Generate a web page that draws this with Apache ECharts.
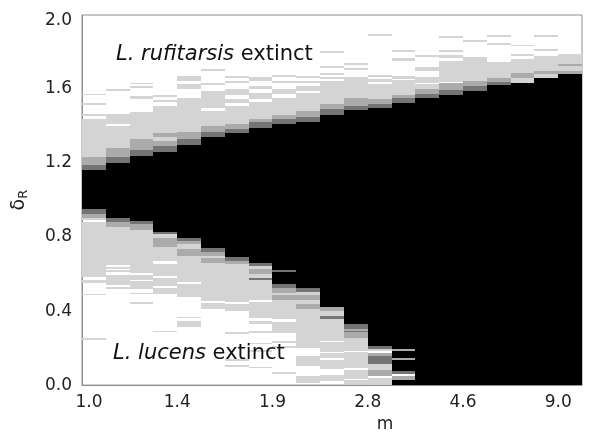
<!DOCTYPE html>
<html>
<head>
<meta charset="utf-8">
<script src="https://cdn.jsdelivr.net/npm/echarts@6/dist/echarts.min.js"></script>
<style>
  html, body { margin: 0; padding: 0; background: #fff; }
  #chart { width: 590px; height: 438px; }
</style>
</head>
<body>
<div id="chart"></div>
<script>
// m tick labels (every 4th column) and y ticks
var mLabels = ['1.0', '1.4', '1.9', '2.8', '4.6', '9.0'];
var columnCount = 21;

// top and bottom of the black (coexistence) region, per column of m
var blackTop = [1.16, 1.20, 1.24, 1.26, 1.30, 1.34, 1.36, 1.39, 1.41, 1.42, 1.46,
                1.485, 1.50, 1.525, 1.55, 1.57, 1.59, 1.62, 1.635, 1.66, 1.68];
var blackBottom = [0.95, 0.905, 0.886, 0.83, 0.796, 0.743, 0.69, 0.66, 0.545, 0.525, 0.42,
                   0.33, 0.21, 0, 0, 0, 0, 0, 0, 0, 0];

// grey stripes above the black region: [from, to, shade]  (shade 0 white .. 3 dark)
var upperBand = [
  [[1.16,1.19,3],[1.19,1.235,2],[1.235,1.44,1],[1.455,1.465,1],[1.515,1.525,1],[1.565,1.575,1]],
  [[1.20,1.23,3],[1.23,1.28,2],[1.28,1.40,1],[1.41,1.465,1],[1.59,1.60,1]],
  [[1.24,1.27,3],[1.27,1.33,2],[1.33,1.475,1],[1.545,1.56,1],[1.605,1.615,1],[1.625,1.635,1]],
  [[1.26,1.29,3],[1.29,1.32,2],[1.32,1.34,1],[1.34,1.365,2],[1.365,1.51,1],[1.53,1.54,1],[1.555,1.565,1]],
  [[1.30,1.33,3],[1.33,1.37,2],[1.37,1.55,1],[1.60,1.625,1],[1.645,1.67,1]],
  [[1.34,1.37,3],[1.37,1.40,2],[1.40,1.48,1],[1.50,1.59,1],[1.62,1.63,1],[1.70,1.71,1]],
  [[1.36,1.385,3],[1.385,1.41,2],[1.41,1.51,1],[1.525,1.545,1],[1.565,1.60,1],[1.63,1.645,1],[1.66,1.67,1]],
  [[1.39,1.42,3],[1.42,1.44,2],[1.44,1.53,1],[1.545,1.58,1],[1.60,1.615,1],[1.645,1.665,1]],
  [[1.41,1.44,3],[1.44,1.46,2],[1.46,1.55,1],[1.575,1.60,1],[1.63,1.645,1],[1.665,1.675,1]],
  [[1.42,1.45,3],[1.45,1.48,2],[1.48,1.58,1],[1.59,1.615,1],[1.635,1.645,1],[1.66,1.67,1]],
  [[1.46,1.49,3],[1.49,1.52,2],[1.52,1.645,1],[1.655,1.665,1],[1.675,1.685,1],[1.715,1.725,1],[1.795,1.805,1]],
  [[1.485,1.51,3],[1.51,1.55,2],[1.55,1.665,1],[1.705,1.715,1],[1.73,1.74,1]],
  [[1.50,1.52,3],[1.52,1.545,2],[1.545,1.625,1],[1.64,1.655,1],[1.665,1.675,1],[1.885,1.895,1]],
  [[1.525,1.55,3],[1.55,1.565,2],[1.565,1.65,1],[1.655,1.67,1],[1.75,1.77,1],[1.80,1.81,1]],
  [[1.55,1.575,3],[1.575,1.60,2],[1.60,1.625,1],[1.635,1.665,1],[1.70,1.72,1],[1.775,1.785,1]],
  [[1.57,1.595,3],[1.595,1.63,2],[1.64,1.75,1],[1.77,1.785,1],[1.80,1.81,1],[1.875,1.885,1]],
  [[1.59,1.615,3],[1.615,1.645,2],[1.645,1.775,1],[1.855,1.865,1]],
  [[1.62,1.64,3],[1.64,1.66,2],[1.66,1.745,1],[1.84,1.85,1],[1.88,1.89,1]],
  [[1.635,1.66,1],[1.66,1.685,2],[1.685,1.76,1],[1.78,1.79,1],[1.83,1.84,1]],
  [[1.66,1.68,1],[1.68,1.70,2],[1.70,1.78,1],[1.805,1.815,1],[1.88,1.89,1]],
  [[1.68,1.70,2],[1.70,1.725,1],[1.725,1.735,2],[1.735,1.79,1]]
];

// grey stripes below the black region
var lowerBand = [
  [[0.925,0.95,3],[0.905,0.925,2],[0.89,0.905,1],[0.585,0.88,1],[0.55,0.57,1],[0.485,0.495,1],[0.245,0.255,1]],
  [[0.88,0.905,3],[0.855,0.88,2],[0.65,0.855,1],[0.63,0.64,1],[0.61,0.62,1],[0.54,0.595,1],[0.52,0.53,1]],
  [[0.87,0.886,3],[0.84,0.87,2],[0.605,0.84,1],[0.57,0.595,1],[0.52,0.56,1],[0.49,0.50,1],[0.44,0.45,1]],
  [[0.815,0.83,3],[0.795,0.815,1],[0.745,0.795,2],[0.67,0.745,1],[0.59,0.655,1],[0.535,0.58,1],[0.49,0.525,1],[0.285,0.295,1]],
  [[0.78,0.796,3],[0.76,0.78,2],[0.735,0.76,1],[0.70,0.735,2],[0.555,0.70,1],[0.475,0.545,1],[0.36,0.37,1],[0.315,0.345,1]],
  [[0.72,0.743,3],[0.70,0.72,2],[0.685,0.70,1],[0.66,0.685,2],[0.455,0.66,1],[0.41,0.445,1]],
  [[0.67,0.69,3],[0.655,0.67,2],[0.45,0.655,1],[0.40,0.44,1],[0.275,0.285,1],[0.13,0.14,1],[0.10,0.11,1]],
  [[0.645,0.66,3],[0.625,0.645,1],[0.60,0.625,2],[0.58,0.60,1],[0.57,0.58,3],[0.46,0.57,1],[0.365,0.45,1],[0.33,0.345,1],[0.28,0.29,1],[0.22,0.23,1],[0.18,0.19,1],[0.09,0.10,1]],
  [[0.61,0.62,3],[0.525,0.545,3],[0.50,0.525,2],[0.485,0.50,1],[0.46,0.485,2],[0.355,0.46,1],[0.28,0.34,1],[0.23,0.24,1],[0.20,0.21,1],[0.06,0.07,1]],
  [[0.505,0.525,3],[0.485,0.505,1],[0.46,0.485,2],[0.44,0.46,1],[0.41,0.44,2],[0.20,0.41,1],[0.105,0.155,1],[0.01,0.05,1]],
  [[0.40,0.42,2],[0.375,0.40,1],[0.355,0.375,3],[0.24,0.355,1],[0.18,0.235,1],[0.145,0.175,1],[0.085,0.135,1],[0.02,0.055,1]],
  [[0.305,0.33,3],[0.295,0.305,2],[0.285,0.295,3],[0.255,0.285,2],[0.185,0.255,1],[0.09,0.18,1],[0.035,0.08,1],[0.005,0.03,1]],
  [[0.195,0.21,3],[0.185,0.195,1],[0.155,0.175,2],[0.115,0.155,3],[0.08,0.115,1],[0.05,0.08,2],[0.0,0.04,1]],
  [[0.185,0.195,2],[0.135,0.145,2],[0.06,0.075,3],[0.048,0.06,0],[0.025,0.048,2]],
  [], [], [], [], [], [], []
];

var shadeColors = ['#ffffff', '#d4d4d4', '#ababab', '#747474', '#000000'];
var font = 'DejaVu Sans';

// flatten to [column, from, to, shade]
var cells = [];
for (var c = 0; c < columnCount; c++) {
  cells.push([c, blackBottom[c], blackTop[c], 4]);
  upperBand[c].forEach(function (s) { cells.push([c, s[0], s[1], s[2]]); });
  lowerBand[c].forEach(function (s) { cells.push([c, s[0], s[1], s[2]]); });
}

function renderCell(params, api) {
  var col = api.value(0);
  var p0 = api.coord([col, api.value(2)]);
  var p1 = api.coord([col + 1, api.value(1)]);
  // snap to whole pixels so neighbouring columns meet without seams
  var x0 = Math.round(p0[0]), x1 = Math.round(p1[0]);
  var y0 = Math.round(p0[1]), y1 = Math.round(p1[1]);
  return {
    type: 'rect',
    shape: { x: x0, y: y0, width: x1 - x0, height: Math.max(1, y1 - y0) },
    style: { fill: shadeColors[api.value(3)] }
  };
}

var chart = echarts.init(document.getElementById('chart'));
chart.setOption({
  animation: false,
  backgroundColor: '#fff',
  grid: { left: 82, right: 8, top: 15, bottom: 46, show: true, borderColor: '#8e8e8e', borderWidth: 1, backgroundColor: '#fff' },
  xAxis: {
    type: 'value', min: 0, max: columnCount, interval: 4,
    name: 'm', nameLocation: 'middle', nameGap: 19,
    nameTextStyle: { fontFamily: font, fontSize: 17, color: '#222', padding: [0, 0, 0, 106] },
    axisLine: { show: true, lineStyle: { color: '#8e8e8e' } },
    axisTick: { show: false },
    splitLine: { show: false },
    axisLabel: {
      fontFamily: font, fontSize: 17, color: '#222', margin: 9,
      formatter: function (v) {
        if (v === 0) return '{first|' + mLabels[0] + '}';
        return v % 4 === 0 ? (mLabels[v / 4] || '') : '';
      },
      rich: { first: { fontFamily: font, fontSize: 17, color: '#222', padding: [0, 0, 0, 14] } }
    }
  },
  yAxis: {
    type: 'value', min: 0, max: 2, interval: 0.4,
    name: '{d|δ}{r|R}', nameLocation: 'middle', nameRotate: 90, nameGap: 52,
    nameTextStyle: {
      fontFamily: font, color: '#222',
      rich: {
        d: { fontFamily: font, fontSize: 19, color: '#222' },
        r: { fontFamily: font, fontSize: 13, color: '#222', padding: [8, 0, 0, 0] }
      }
    },
    axisLine: { show: true, lineStyle: { color: '#8e8e8e' } },
    axisTick: { show: false },
    splitLine: { show: false },
    axisLabel: {
      fontFamily: font, fontSize: 17, color: '#222', margin: 10,
      formatter: function (v) {
        return v === 2 ? '{top|2.0}' : v.toFixed(1);
      },
      rich: { top: { fontFamily: font, fontSize: 17, color: '#222', padding: [12, 0, 0, 0] } }
    }
  },
  series: [{
    type: 'custom',
    renderItem: renderCell,
    data: cells,
    encode: { x: 0, y: [1, 2] },
    clip: true,
    silent: true
  }],
  graphic: [
    {
      type: 'text', left: 116, top: 44, z: 100,
      style: {
        text: '{i|L. rufitarsis} extinct',
        fontFamily: font, fontSize: 21, fill: '#111',
        rich: { i: { fontFamily: font, fontSize: 21, fontStyle: 'italic', fill: '#111' } }
      }
    },
    {
      type: 'text', left: 113, top: 343, z: 100,
      style: {
        text: '{i|L. lucens} extinct',
        fontFamily: font, fontSize: 21, fill: '#111',
        rich: { i: { fontFamily: font, fontSize: 21, fontStyle: 'italic', fill: '#111' } }
      }
    }
  ]
});
</script>
</body>
</html>
